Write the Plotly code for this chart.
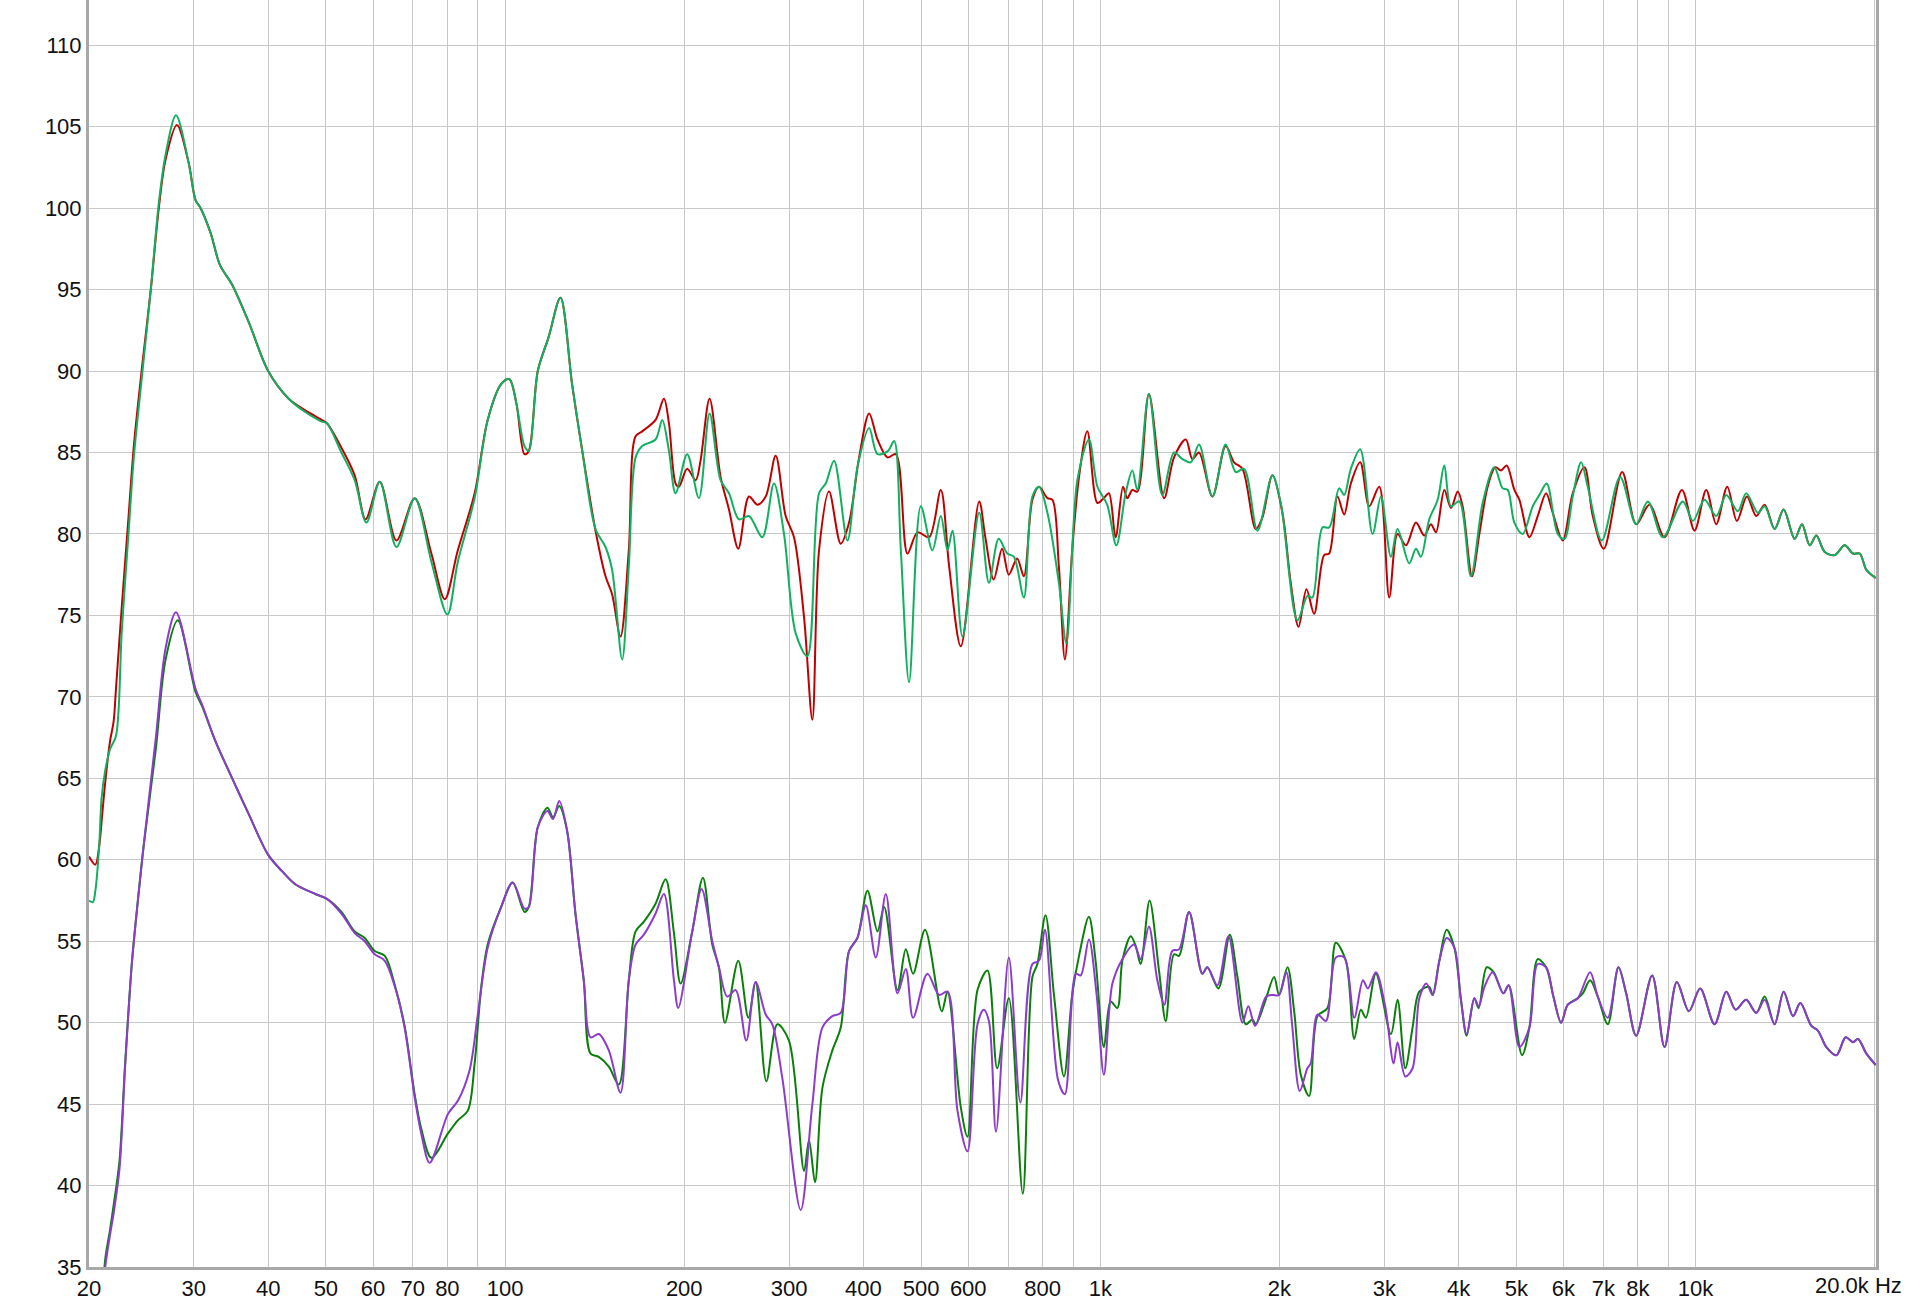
import math
import plotly.graph_objects as go

# ---------------- data (frequency in Hz, level in dB) ----------------
TOP_RED = [(20.0,60.2),(20.5,59.7),(20.8,60.8),(21.05,62.8),(21.3,64.8),(21.7,67.3),(22.0,68.5),(22.2,70.5),(22.7,75.5),(23.3,81.0),(23.8,85.5),(24.6,90.5),(25.4,95.0),(26.2,100.0),(26.9,103.0),(28.1,105.1),(29.4,102.8),(30.2,100.5),(30.8,100.0),(32.0,98.5),(33.2,96.5),(34.8,95.3),(37.1,93.0),(40.0,90.0),(43.3,88.3),(46.1,87.6),(49.2,87.0),(50.2,86.8),(53.1,85.3),(55.9,83.6),(58.3,80.9),(61.6,83.2),(65.7,79.6),(70.5,82.2),(75.2,78.8),(79.2,76.0),(83.3,79.0),(88.9,82.5),(93.5,87.0),(98.5,89.2),(101.7,89.5),(104.5,88.0),(107.8,84.9),(109.6,85.1),(113.5,90.0),(118.4,92.1),(123.9,94.5),(129.6,89.2),(134.8,85.1),(141.9,80.2),(147.5,77.4),(151.3,76.3),(156.3,73.7),(161.4,79.0),(165.7,86.0),(170.0,86.3),(179.0,87.0),(184.9,88.3),(188.5,86.8),(193.4,83.1),(195.9,82.9),(202.3,84.0),(209.0,83.3),(213.0,84.5),(220.6,88.3),(230.2,83.5),(237.8,81.5),(246.5,79.1),(256.9,82.3),(265.3,81.8),(274.1,82.3),(284.9,84.8),(296.1,81.1),(305.8,79.8),(317.9,74.9),(328.3,68.6),(336.9,79.0),(350.2,82.6),(366.4,79.4),(378.4,80.7),(393.4,84.7),(408.9,87.4),(422.4,85.8),(439.0,84.7),(453.4,84.9),(474.3,78.8),(493.0,80.1),(515.8,79.8),(539.6,82.7),(557.3,78.0),(583.0,73.1),(626,82.0),(641,79.8),(662,77.2),(684,79.1),(702,77.5),(725,78.5),(744,77.4),(769,82.1),(789,82.9),(815,82.2),(831,82.1),(852,78.0),(872,72.3),(897,79.0),(921,83.5),(951,86.3),(989,81.9),(1014,82.2),(1034,82.5),(1061,79.8),(1092,82.9),(1110,82.2),(1132,82.7),(1154,82.6),(1207,88.6),(1280,82.2),(1330,84.7),(1392,85.8),(1428,84.6),(1465,85.0),(1543,82.3),(1624,85.4),(1678,84.4),(1733,84.0),(1825,80.3),(1872,81.0),(1946,83.6),(2023,81.3),(2089,77.0),(2153,74.3),(2220,76.6),(2287,75.1),(2377,78.7),(2424,78.8),(2503,82.3),(2569,81.2),(2636,83.1),(2733,84.4),(2830,81.7),(2942,82.9),(3058,76.1),(3158,80.0),(3262,79.3),(3391,80.7),(3502,79.9),(3593,80.6),(3664,80.1),(3784,82.7),(3883,81.6),(3985,82.6),(4062,81.7),(4212,77.4),(4333,80.0),(4475,82.9),(4610,84.1),(4712,83.9),(4817,84.2),(4962,82.7),(5059,82.1),(5259,79.8),(5431,81.1),(5610,82.5),(5756,81.3),(5983,79.6),(6219,82.5),(6507,84.1),(6720,81.1),(7012,79.1),(7529,83.8),(7948,80.6),(8369,81.8),(8869,79.8),(9486,82.7),(9962,80.2),(10422,82.7),(10834,80.6),(11306,82.9),(11734,80.8),(12198,82.3),(12649,81.1),(13064,81.8),(13579,80.3),(14062,81.5),(14674,79.7),(15096,80.6),(15551,79.3),(15958,79.9),(16481,78.9),(17131,78.7),(17804,79.3),(18390,78.8),(18871,78.8),(19367,77.8),(20079,77.3)]

TOP_GREEN = [(20.0,57.5),(20.3,57.4),(20.5,58.1),(20.8,60.8),(21.0,63.8),(21.3,65.5),(21.7,66.8),(22.2,67.6),(22.7,74.0),(23.3,80.0),(23.8,84.8),(24.6,90.0),(25.4,95.0),(26.2,100.3),(26.9,103.3),(28.0,105.7),(29.4,102.8),(30.2,100.5),(30.8,100.0),(32.0,98.5),(33.2,96.5),(34.8,95.3),(37.1,93.0),(40.0,90.0),(43.3,88.3),(46.1,87.5),(49.2,86.9),(50.2,86.8),(53.1,85.0),(55.9,83.3),(58.5,80.7),(61.6,83.2),(65.7,79.2),(70.5,82.2),(75.2,78.3),(80.0,75.05),(83.3,78.3),(88.9,82.2),(93.5,87.0),(98.5,89.2),(101.7,89.5),(104.5,88.0),(107.8,85.4),(109.6,85.1),(113.5,90.0),(118.4,92.1),(123.9,94.5),(129.6,89.2),(134.8,85.1),(141.9,80.3),(147.5,79.2),(151.3,77.8),(157.3,72.3),(161.4,78.0),(165.7,84.7),(170.0,85.4),(179.0,85.8),(183.7,87.0),(188.5,85.1),(193.4,82.5),(202.3,84.9),(211.7,82.2),(220.6,87.4),(230.2,83.3),(237.8,82.5),(247.1,80.9),(256.9,81.1),(270.5,79.8),(283.0,83.1),(294.2,80.0),(307.8,73.9),(322.0,72.5),(336.9,82.5),(345.7,83.1),(357.1,84.5),(376.0,79.6),(390.8,84.1),(408.9,86.5),(422.4,84.9),(440.0,85.1),(450.5,85.7),(462.3,79.0),(477.3,70.9),(499.4,81.7),(522.4,79.0),(539.6,81.1),(553.7,79.0),(564.5,80.2),(586.8,73.7),(626,81.3),(650,77.0),(675,79.7),(698,78.8),(716,78.6),(744,76.1),(769,82.3),(789,82.9),(815,81.3),(852,77.0),(877,73.3),(915,83.3),(957,85.8),(989,82.9),(1027,81.8),(1064,79.3),(1103,82.5),(1132,83.9),(1154,82.7),(1207,88.6),(1271,82.4),(1330,85.0),(1374,84.6),(1419,84.4),(1465,85.5),(1543,82.3),(1624,85.5),(1689,83.8),(1744,84.0),(1837,80.2),(1946,83.6),(2010,81.9),(2144,74.7),(2229,76.2),(2272,76.1),(2362,80.4),(2424,80.4),(2519,82.8),(2569,82.4),(2636,84.0),(2733,85.2),(2867,80.0),(2961,82.3),(3078,78.6),(3158,80.3),(3304,78.2),(3391,79.1),(3457,78.6),(3570,80.9),(3688,82.1),(3784,84.2),(3883,81.7),(4010,82.0),(4195,77.4),(4389,81.9),(4592,84.1),(4743,82.8),(4836,82.7),(4962,80.7),(5124,80.0),(5327,81.7),(5467,82.4),(5624,83.1),(5869,80.0),(6022,79.7),(6219,82.3),(6423,84.4),(6591,82.9),(6959,79.6),(7470,83.5),(7948,80.6),(8315,82.0),(8812,79.8),(9522,82.0),(9898,80.8),(10355,82.1),(10834,81.1),(11263,82.4),(11780,81.4),(12166,82.5),(12731,81.3),(13064,81.7),(13579,80.3),(14062,81.5),(14674,79.7),(15096,80.6),(15551,79.3),(15958,79.9),(16481,78.9),(17131,78.7),(17804,79.3),(18390,78.8),(18871,78.8),(19367,77.8),(20079,77.3)]

BOTTOM_GREEN = [(21.0,32.5),(21.3,35.5),(21.7,37.3),(22.0,38.8),(22.5,41.5),(23.0,47.5),(23.6,53.6),(24.1,57.1),(24.7,60.8),(25.9,66.8),(26.9,72.3),(28.2,74.7),(30.2,70.3),(31.0,69.4),(32.6,67.3),(34.8,65.0),(37.1,62.8),(40.0,60.3),(42.2,59.3),(44.4,58.5),(48.0,57.9),(50.2,57.6),(53.1,56.8),(55.9,55.6),(58.1,55.2),(60.4,54.4),(62.8,54.1),(65.3,52.3),(67.8,49.8),(70.5,45.6),(72.3,43.5),(75.2,41.7),(80.2,43.2),(83.3,44.0),(86.6,44.6),(88.9,47.5),(91.2,52.2),(93.5,54.8),(98.5,57.1),(103.0,58.6),(107.8,56.8),(109.6,57.1),(113.5,62.0),(117.8,63.2),(120.4,62.6),(123.3,63.3),(127.1,61.8),(131.3,56.7),(135.6,52.6),(139.2,48.1),(143.7,47.9),(149.4,47.3),(155.3,46.2),(161.4,52.6),(165.7,55.6),(171.1,56.2),(179.0,57.3),(186.1,58.8),(192.2,55.5),(197.2,52.4),(206.3,55.6),(215.0,58.9),(222.9,54.8),(228.7,53.4),(234.1,50.0),(246.5,53.8),(256.3,50.3),(263.6,52.5),(274.8,46.4),(286.7,49.9),(299.9,48.9),(317.9,40.9),(324.1,42.8),(331.7,40.2),(341.3,46.0),(354.7,48.3),(366.4,49.7),(378.4,54.4),(390.8,55.2),(406.3,58.1),(422.4,55.6),(433.4,57.1),(456.4,52.0),(471.3,54.5),(484.7,53.0),(507.7,55.7),(541.6,50.7),(553.7,51.9),(583.0,44.8),(598.2,43.0),(621.9,52.0),(646.4,53.2),(671,47.2),(702,51.5),(741,39.5),(769,52.8),(784,53.6),(809,56.6),(836,51.7),(869,46.7),(897,51.7),(921,54.1),(957,56.5),(982,53.8),(1014,48.5),(1041,51.3),(1068,50.9),(1089,53.8),(1125,55.3),(1147,54.7),(1169,53.6),(1210,57.5),(1255,53.2),(1288,50.1),(1330,54.2),(1356,54.1),(1410,56.8),(1484,53.0),(1513,53.4),(1579,52.1),(1650,55.4),(1700,52.8),(1756,49.9),(1801,50.2),(1825,49.9),(1884,51.1),(1959,52.8),(1997,51.7),(2063,53.4),(2117,50.7),(2172,46.8),(2243,45.5),(2317,50.4),(2408,50.9),(2487,54.9),(2586,53.8),(2671,49.0),(2740,50.8),(2794,50.3),(2904,53.0),(3078,49.3),(3158,51.4),(3254,47.2),(3347,49.7),(3435,51.9),(3570,52.2),(3617,51.7),(3712,53.8),(3818,55.7),(3934,54.6),(4036,51.4),(4126,49.2),(4250,51.5),(4322,50.9),(4458,53.4),(4580,53.1),(4755,51.8),(4854,52.3),(5111,48.0),(5259,49.7),(5431,53.9),(5610,53.4),(5771,51.6),(5945,50.0),(6100,51.1),(6341,51.5),(6465,51.8),(6651,52.6),(6851,51.6),(7122,49.9),(7422,53.4),(7646,51.8),(7948,49.2),(8456,52.9),(8869,48.5),(9302,52.5),(9746,50.7),(10182,52.1),(10764,49.9),(11263,51.9),(11674,50.8),(12166,51.4),(12649,50.6),(13064,51.6),(13579,49.9),(14062,51.9),(14580,50.4),(14999,51.2),(15652,49.8),(16061,49.5),(16588,48.5),(17242,48.0),(17874,49.1),(18390,48.8),(18750,49.0),(19367,48.1),(20079,47.4)]

BOTTOM_PURPLE = [(21.0,32.0),(21.3,35.0),(21.7,37.0),(22.0,38.3),(22.5,41.0),(23.0,47.3),(23.6,53.6),(24.1,57.1),(24.7,60.8),(25.9,67.5),(26.9,73.0),(28.0,75.2),(30.2,70.5),(31.0,69.5),(32.6,67.3),(34.8,65.0),(37.1,62.8),(40.0,60.3),(42.2,59.3),(44.4,58.5),(48.0,57.9),(50.2,57.6),(53.1,56.7),(55.9,55.5),(58.1,55.0),(60.4,54.2),(62.8,53.8),(65.3,52.2),(67.8,49.7),(70.5,45.4),(72.3,43.2),(74.7,41.4),(80.2,44.4),(83.3,45.2),(87.2,47.1),(90.0,50.5),(93.5,54.6),(98.5,57.1),(103.0,58.6),(107.8,57.0),(109.6,57.1),(113.5,62.0),(117.8,63.0),(120.4,62.5),(123.3,63.6),(127.1,61.8),(131.3,56.7),(135.6,52.6),(139.2,49.1),(143.7,49.3),(149.4,48.3),(156.3,45.7),(161.4,52.6),(165.7,54.8),(171.1,55.4),(179.0,56.7),(184.9,57.9),(192.2,52.6),(195.4,50.9),(206.3,55.6),(213.9,58.2),(222.9,55.0),(228.7,53.4),(236.2,51.6),(244.0,52.0),(254.3,48.9),(263.6,52.5),(274.1,50.5),(281.2,49.9),(292.3,46.6),(313.8,38.5),(328.3,45.0),(341.3,49.7),(354.7,50.4),(366.4,50.6),(378.4,54.4),(390.8,55.2),(403.7,57.2),(419.6,54.0),(436.2,57.9),(456.4,51.8),(471.3,53.3),(484.7,50.3),(512.3,53.0),(536.0,51.7),(553.7,51.9),(575.5,44.6),(598.2,42.1),(621.9,49.9),(637,50.8),(650,50.1),(668,43.3),(702,54.0),(734,45.1),(769,53.6),(789,53.8),(807,55.7),(849,46.5),(872,45.6),(910,53.0),(927,52.9),(957,55.1),(986,51.7),(1014,46.8),(1048,52.4),(1089,53.9),(1139,54.8),(1169,53.9),(1207,55.9),(1247,52.6),(1281,51.1),(1321,54.4),(1356,54.5),(1410,56.8),(1484,53.0),(1513,53.4),(1573,52.3),(1642,55.3),(1733,50.0),(1773,51.0),(1820,49.8),(1900,51.6),(1950,51.7),(1997,51.7),(2054,53.1),(2100,49.9),(2163,45.8),(2228,47.2),(2257,47.5),(2317,50.5),(2393,50.1),(2487,54.0),(2570,54.0),(2671,50.3),(2762,52.6),(2815,52.1),(2904,53.1),(3007,51.1),(3110,47.5),(3158,48.8),(3254,46.7),(3347,47.2),(3435,51.5),(3530,52.4),(3617,51.7),(3712,53.8),(3818,55.2),(3934,54.6),(4036,51.4),(4126,49.3),(4250,51.5),(4322,51.0),(4420,52.2),(4562,53.1),(4755,51.8),(4854,52.3),(5059,48.5),(5259,49.7),(5431,53.6),(5610,53.4),(5771,51.6),(5945,50.0),(6100,51.1),(6341,51.5),(6651,53.1),(6851,51.6),(7122,50.3),(7422,53.4),(7646,51.8),(7948,49.2),(8456,52.9),(8869,48.5),(9302,52.5),(9746,50.7),(10182,52.1),(10764,49.9),(11263,51.9),(11674,50.8),(12166,51.4),(12649,50.6),(13064,51.4),(13579,49.9),(14062,51.9),(14580,50.4),(14999,51.2),(15652,49.8),(16061,49.5),(16588,48.5),(17242,48.0),(17874,49.1),(18390,48.8),(18750,49.0),(19367,48.1),(20079,47.4)]

X_TICK_VALUES = [20, 30, 40, 50, 60, 70, 80, 90, 100, 200, 300, 400, 500, 600, 700, 800, 900,
                 1000, 2000, 3000, 4000, 5000, 6000, 7000, 8000, 9000, 10000, 20000]
X_TICK_LABELS = ["20", "30", "40", "50", "60", "70", "80", "", "100", "200", "300", "400", "500", "600", "", "800", "",
                 "1k", "2k", "3k", "4k", "5k", "6k", "7k", "8k", "", "10k", ""]
X_END_LABEL = "20.0k Hz"
Y_TICK_VALUES = [35, 40, 45, 50, 55, 60, 65, 70, 75, 80, 85, 90, 95, 100, 105, 110]

SERIES = [
    ("top red", TOP_RED, "#c00000"),
    ("top green", TOP_GREEN, "#10b060"),
    ("bottom green", BOTTOM_GREEN, "#0a800a"),
    ("bottom purple", BOTTOM_PURPLE, "#8c3ccc"),
]

# ---------------- figure ----------------
fig = go.Figure()
for name, pts, color in SERIES:
    fig.add_trace(go.Scatter(
        x=[p[0] for p in pts], y=[p[1] for p in pts], name=name, mode="lines",
        line=dict(color=color, width=2, shape="spline", smoothing=0.9),
        showlegend=False, hoverinfo="skip"))

FONT = dict(family="Liberation Sans, Arial, sans-serif", size=22, color="#111111")

fig.update_layout(
    width=1920, height=1300, autosize=False,
    margin=dict(l=89, r=44, t=0, b=33, pad=0),
    plot_bgcolor="white", paper_bgcolor="white",
    xaxis=dict(type="log", range=[math.log10(20), math.log10(20100)],
               tickmode="array", tickvals=X_TICK_VALUES, ticktext=X_TICK_LABELS,
               showgrid=True, gridcolor="#c8c8c8", gridwidth=1, zeroline=False,
               showline=True, linecolor="#a8a8a8", linewidth=3, mirror=False,
               ticks="", tickfont=FONT),
    yaxis=dict(range=[35, 112.78], tickmode="array", tickvals=Y_TICK_VALUES,
               showgrid=True, gridcolor="#c8c8c8", gridwidth=1, zeroline=False,
               showline=True, linecolor="#a8a8a8", linewidth=3, mirror=True,
               ticks="", tickfont=FONT),
    annotations=[dict(text=X_END_LABEL, x=math.log10(20000), xref="x", y=0, yref="paper",
                      xanchor="center", yanchor="top", xshift=-16, yshift=-4,
                      showarrow=False, font=FONT)],
)

fig.write_html("out.html", config={"displayModeBar": False},
               post_script="document.body.style.margin='0';")
